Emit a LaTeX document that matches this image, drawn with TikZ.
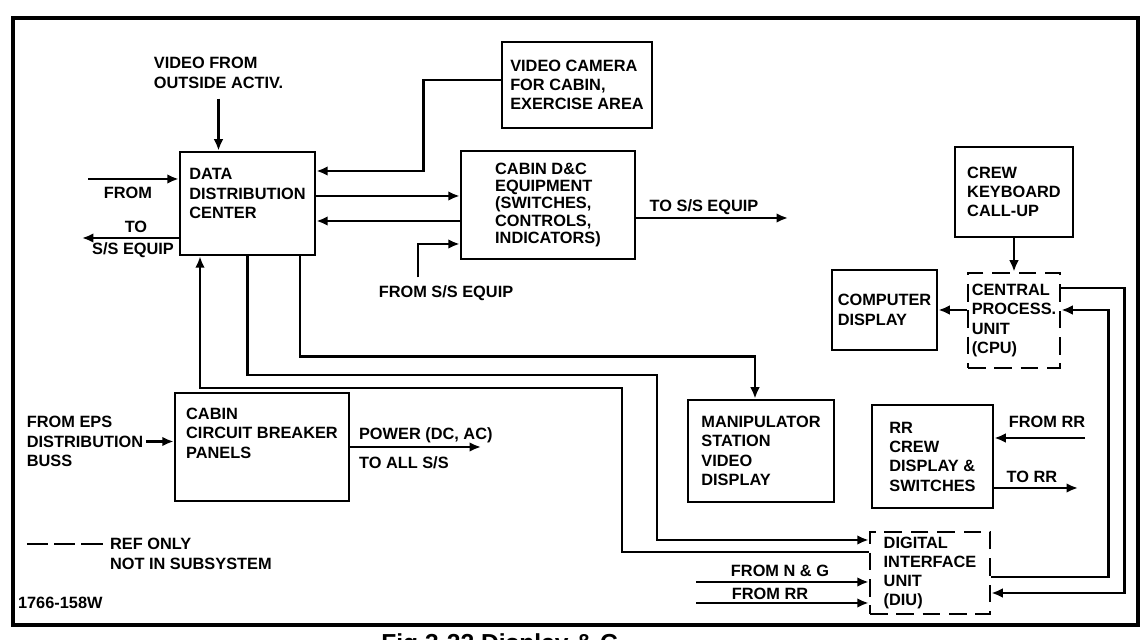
\documentclass[tikz,border=0pt]{standalone}
\usepackage{fontspec}
\setmainfont{Liberation Sans}
\usetikzlibrary{arrows.meta}

\begin{document}
\begin{tikzpicture}[
  font=\bfseries\fontsize{9.3}{11}\selectfont,
  >={Latex[length=6.5pt,width=5.5pt]},
  line width=1.5pt,
  blk/.style={draw, align=left, inner sep=2pt},
  refblk/.style={blk, dash pattern=on 10pt off 5pt},
  lab/.style={align=left, inner sep=1pt},
  frame/.style={line width=1.8pt}
]
\useasboundingbox (0,0) rectangle (22.86,12.8);
\draw[frame] (0.26,0.30) rectangle (22.76,12.44);

% blocks
\node[blk, minimum width=2.70cm, minimum height=2.06cm, text depth=0.4cm] (ddc) at (4.95,8.73) {DATA\\DISTRIBUTION\\CENTER};
\node[blk, minimum width=3.00cm, minimum height=1.72cm] (cam) at (11.54,11.10) {VIDEO CAMERA\\FOR CABIN,\\EXERCISE AREA};
\node[blk, minimum width=3.48cm, minimum height=2.16cm, font=\bfseries\fontsize{9.3}{9.8}\selectfont] (dnc) at (10.96,8.70) {CABIN D\&C\\EQUIPMENT\\(SWITCHES,\\CONTROLS,\\INDICATORS)};
\node[blk, minimum width=2.36cm, minimum height=1.80cm] (kbd) at (20.28,8.96) {CREW\\KEYBOARD\\CALL-UP};
\node[refblk, minimum width=1.84cm, minimum height=1.90cm] (cpu) at (20.28,6.39) {CENTRAL\\PROCESS.\\UNIT\\(CPU)};
\node[blk, minimum width=2.10cm, minimum height=1.60cm] (disp) at (17.69,6.60) {COMPUTER\\DISPLAY};
\node[blk, minimum width=2.92cm, minimum height=2.04cm] (manip) at (15.22,3.78) {MANIPULATOR\\STATION\\VIDEO\\DISPLAY};
\node[blk, minimum width=2.42cm, minimum height=2.06cm] (rr) at (18.65,3.67) {RR\\CREW\\DISPLAY \&\\SWITCHES};
\node[refblk, minimum width=2.40cm, minimum height=1.64cm] (diu) at (18.60,1.34) {DIGITAL\\INTERFACE\\UNIT\\(DIU)};
\node[blk, minimum width=3.48cm, minimum height=2.16cm, text depth=0.56cm] (cb) at (5.24,3.86) {CABIN\\CIRCUIT BREAKER\\PANELS};

% data distribution center, left side
\node[lab] (vidlbl) at (4.37,11.34) {VIDEO FROM\\OUTSIDE ACTIV.};
\draw[->] ([yshift=-0.14cm]vidlbl.south) -- (vidlbl.south |- ddc.north);
\node[lab] (fromlbl) at (2.56,8.94) {FROM};
\coordinate (fromin) at (1.76,9.22);
\draw[->] (fromin) -- (fromin -| ddc.west);
\node[lab] (tolbl) at (2.72,8.26) {TO};
\node[lab] (sslbl) at (2.66,7.80) {S/S EQUIP};
\coordinate (toout) at (1.64,8.04);
\draw[->] (toout -| ddc.west) -- (toout);

% camera and cabin D&C
\draw[->] ([yshift=0.10cm]cam.west) -- ++(-1.54,0) |- ([yshift=0.65cm]ddc.east);
\coordinate (todc) at ([yshift=0.15cm]ddc.east);
\draw[->] (todc) -- (todc -| dnc.west);
\coordinate (fromdc) at ([yshift=-0.35cm]ddc.east);
\draw[->] (fromdc -| dnc.west) -- (fromdc);
\node[lab] (ssin) at (8.92,6.94) {FROM S/S EQUIP};
\draw[->] ([xshift=-0.56cm,yshift=0.1cm]ssin.north) |- ([yshift=-0.78cm]dnc.west);
\node[lab] (ssout) at (14.08,8.66) {TO S/S EQUIP};
\coordinate (ssend) at (15.76,8.44);
\draw[->] (ssend -| dnc.east) -- (ssend);

% computer
\draw[->] (kbd) -- (cpu);
\draw[->] (cpu.west |- disp.east) -- (disp.east);
\draw[->] ([yshift=0.65cm]cpu.east) -- ++(1.26,0) |- ([yshift=-0.40cm]diu.east);
\draw[->] ([yshift=-0.08cm]diu.east) -- ++(2.34,0) |- ([yshift=0.21cm]cpu.east);

% RR display
\node[lab] (rrinlbl) at (20.94,4.36) {FROM RR};
\coordinate (rrin) at (21.70,4.04);
\draw[->] (rrin) -- (rrin -| rr.east);
\node[lab] (rroutlbl) at (20.64,3.26) {TO RR};
\coordinate (rrout) at (21.56,3.04);
\draw[->] (rrout -| rr.east) -- (rrout);

% DDC to manipulator station and DIU
\draw[->] ([xshift=1.05cm]ddc.south) -- ++(0,-2.00) -| ([xshift=-0.12cm]manip.north);
\draw[->] (ddc.south) |- (13.14,5.30) |- ([yshift=0.66cm]diu.west);
\draw[->] ([yshift=0.42cm]diu.west) -| (12.44,5.04) -| ([xshift=-0.95cm]ddc.south);

% power
\node[lab] (eps) at (1.70,3.97) {FROM EPS\\DISTRIBUTION\\BUSS};
\draw[->] (eps.east) -- (eps.east -| cb.west);
\coordinate (pwr) at (9.62,3.86);
\draw[->] (cb.east) -- (cb.east -| pwr);
\node[lab, anchor=west] (pwrlbl) at (7.12,4.10) {POWER (DC, AC)};
\node[lab, anchor=west] (alllbl) at (7.12,3.54) {TO ALL S/S};

% DIU inputs
\node[lab] (nglbl) at (15.60,1.38) {FROM N \& G};
\coordinate (ngin) at (13.92,1.16);
\draw[->] (ngin) -- (ngin -| diu.west);
\node[lab] (rrlbl) at (15.40,0.92) {FROM RR};
\coordinate (rrin2) at (13.92,0.74);
\draw[->] (rrin2) -- (rrin2 -| diu.west);

% legend
\node[lab, anchor=west] (legend) at (2.14,1.72) {REF ONLY\\NOT IN SUBSYSTEM};
\draw[dash pattern=on 12pt off 3.5pt] ([xshift=-1.60cm,yshift=0.2cm]legend.west) -- ([xshift=-0.04cm,yshift=0.2cm]legend.west);
\node[lab, anchor=west] (code) at (0.30,0.74) {1766-158W};
\node[lab, anchor=north west, inner sep=0pt, font=\bfseries\fontsize{14}{16}\selectfont] (cap) at (7.60,0.16) {Fig 3-22 Display \& C};
\end{tikzpicture}
\end{document}
